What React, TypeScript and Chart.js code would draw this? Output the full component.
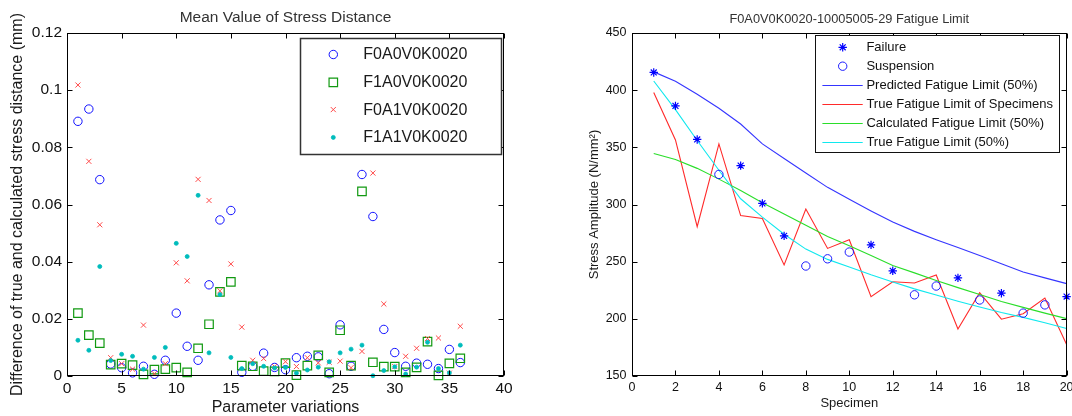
import React, { useEffect, useRef } from 'react';
import { Chart, registerables } from 'chart.js';

Chart.register(...registerables);

const FONT = '"Liberation Sans", Arial, Helvetica, sans-serif';
Chart.defaults.font.family = FONT;

// ---------------- Left chart data ----------------
const leftTitle = 'Mean Value of Stress Distance';
const leftXTitle = 'Parameter variations';
const leftYTitle = 'Difference of true and calculated stress distance (mm)';
const variations = [1, 2, 3, 4, 5, 6, 7, 8, 9, 10, 11, 12, 13, 14, 15, 16, 17, 18, 19, 20, 21, 22, 23, 24, 25, 26, 27, 28, 29, 30, 31, 32, 33, 34, 35, 36];
const seriesF0A0V0 = [0.0891, 0.0934, 0.0687, 0.0042, 0.0029, 0.0011, 0.0034, 0.0006, 0.0055, 0.022, 0.0104, 0.0055, 0.0319, 0.0546, 0.0579, 0.0013, 0.0034, 0.008, 0.003, 0.0022, 0.0064, 0.0069, 0.0067, 0.0008, 0.0179, 0.0034, 0.0705, 0.0558, 0.0163, 0.0082, 0.0034, 0.0045, 0.0041, 0.0026, 0.0093, 0.0047];
const seriesF1A0V0 = [0.022, 0.0143, 0.0115, 0.004, 0.0043, 0.0038, 0.0006, 0.0022, 0.0024, 0.0029, 0.0013, 0.0097, 0.0181, 0.0294, 0.0329, 0.0036, 0.0034, 0.0017, 0.0016, 0.0045, 0.0003, 0.0036, 0.0072, 0.0013, 0.016, 0.0036, 0.0646, 0.0048, 0.0033, 0.0033, 0.0013, 0.003, 0.012, 0.0002, 0.0044, 0.0062];
const seriesF0A1V0 = [0.1018, 0.0751, 0.0529, 0.0064, 0.0043, 0.0024, 0.0178, 0.0008, 0.0043, 0.0396, 0.0333, 0.0688, 0.0614, 0.0298, 0.0392, 0.0171, 0.0055, 0.0061, 0.0033, 0.005, 0.0033, 0.0064, 0.0046, 0.0048, 0.0052, 0.0029, 0.0086, 0.071, 0.0252, 0.0033, 0.0069, 0.0097, 0.0131, 0.0133, 0.001, 0.0174];
const seriesF1A1V0 = [0.0125, 0.009, 0.0383, 0.0054, 0.0076, 0.0069, 0.0024, 0.0065, 0.01, 0.0464, 0.0418, 0.0632, 0.0081, 0.0285, 0.0065, 0.0026, 0.0043, 0.0034, 0.0028, 0.003, 0.001, 0.0021, 0.0031, 0.005, 0.0081, 0.0094, 0.0108, 0.0001, 0.0019, 0.0032, 0.0007, 0.0031, 0.0118, 0.0026, 0.0011, 0.0108];
const leftLabels = ['F0A0V0K0020', 'F1A0V0K0020', 'F0A1V0K0020', 'F1A1V0K0020'];
const leftXTicks = [0, 5, 10, 15, 20, 25, 30, 35, 40];
const leftXTickLabels = ['0', '5', '10', '15', '20', '25', '30', '35', '40'];
const leftYTicks = [0, 0.02, 0.04, 0.06, 0.08, 0.1, 0.12];
const leftYTickLabels = ['0', '0.02', '0.04', '0.06', '0.08', '0.1', '0.12'];

// ---------------- Right chart data ----------------
const rightTitle = 'F0A0V0K0020-10005005-29 Fatigue Limit';
const rightXTitle = 'Specimen';
const rightYTitle = 'Stress Amplitude (N/mm\u00B2)';
const specimens = [1, 2, 3, 4, 5, 6, 7, 8, 9, 10, 11, 12, 13, 14, 15, 16, 17, 18, 19, 20];
const failureX = [1, 2, 3, 5, 6, 7, 11, 12, 15, 17, 20];
const failureY = [415.5, 386.3, 356.9, 334, 301, 272.6, 264.7, 242, 235.8, 222.4, 219.5];
const suspensionX = [4, 8, 9, 10, 13, 14, 16, 18, 19];
const suspensionY = [326.3, 246.2, 252.5, 258.4, 221, 228.7, 216.5, 205, 212.2];
const predictedLimit = [416, 407.8, 396.5, 384.2, 370.4, 353, 340.2, 327.6, 315, 304.5, 294.3, 284.6, 276.5, 269.2, 262.3, 255.3, 248.2, 241, 235.8, 230.8];
const trueSpecimenLimit = [398, 356.5, 280.6, 353, 290.3, 287.8, 247.2, 296, 261.6, 269.2, 219.4, 232.4, 231.4, 238.3, 191.1, 222.9, 199.7, 204.5, 218.2, 177.6];
const calculatedLimit = [344.6, 339.4, 331.6, 322.2, 312.3, 301.5, 291.6, 281.8, 272, 264, 255.5, 246.7, 240.2, 233.6, 227.3, 221.2, 215.2, 210, 205, 200.2];
const trueLimit50 = [408, 383, 356, 330, 305, 289, 274, 261, 252, 245.3, 238.5, 232.3, 226.2, 220.8, 215.4, 210.4, 205.6, 201.3, 196.6, 191.6];
const rightLabels = ['Failure', 'Suspension', 'Predicted Fatigue Limit (50%)', 'True Fatigue Limit of Specimens', 'Calculated Fatigue Limit (50%)', 'True Fatigue Limit (50%)'];
const rightXTicks = [0, 2, 4, 6, 8, 10, 12, 14, 16, 18, 20];
const rightXTickLabels = ['0', '2', '4', '6', '8', '10', '12', '14', '16', '18', '20'];
const rightYTicks = [150, 200, 250, 300, 350, 400, 450];
const rightYTickLabels = ['150', '200', '250', '300', '350', '400', '450'];

// ---------------- Styles ----------------
type Marker = { style: string; r: number; stroke: string; fill: string | null; lw: number };

const leftMarkers: Marker[] = [
  { style: 'circle', r: 4.2, stroke: '#1010ff', fill: null, lw: 1 },
  { style: 'rect', r: 6, stroke: '#119911', fill: null, lw: 1.2 },
  { style: 'crossRot', r: 3.6, stroke: '#ff4a4a', fill: null, lw: 1 },
  { style: 'circle', r: 2, stroke: '#00bcbc', fill: '#00bcbc', lw: 0.8 },
];
const failureMarker: Marker = { style: 'star', r: 4.2, stroke: '#0000ff', fill: null, lw: 1.2 };
const suspensionMarker: Marker = { style: 'circle', r: 4.2, stroke: '#1a1aff', fill: null, lw: 1 };
const lineColors = ['#3535ff', '#ff2a2a', '#2ade2a', '#10e8ee'];

function drawMarker(ctx: CanvasRenderingContext2D, m: Marker, x: number, y: number) {
  ctx.save();
  ctx.strokeStyle = m.stroke;
  ctx.lineWidth = m.lw;
  ctx.beginPath();
  const r = m.r;
  const o = r * Math.SQRT1_2;
  if (m.style === 'circle') {
    ctx.arc(x, y, r, 0, Math.PI * 2);
  } else if (m.style === 'rect') {
    ctx.rect(x - o, y - o, 2 * o, 2 * o);
  } else if (m.style === 'crossRot') {
    ctx.moveTo(x - o, y - o); ctx.lineTo(x + o, y + o);
    ctx.moveTo(x + o, y - o); ctx.lineTo(x - o, y + o);
  } else if (m.style === 'star') {
    ctx.moveTo(x - r, y); ctx.lineTo(x + r, y);
    ctx.moveTo(x, y - r); ctx.lineTo(x, y + r);
    ctx.moveTo(x - o, y - o); ctx.lineTo(x + o, y + o);
    ctx.moveTo(x + o, y - o); ctx.lineTo(x - o, y + o);
  }
  if (m.fill) { ctx.fillStyle = m.fill; ctx.fill(); }
  ctx.stroke();
  ctx.restore();
}

function drawFrame(chart: any, tickLen: number) {
  const { ctx, chartArea: a, scales } = chart;
  const L = Math.round(a.left) + 0.5;
  const R = Math.round(a.right) - 0.5;
  const T = Math.round(a.top) + 0.5;
  const B = Math.round(a.bottom) - 0.5;
  ctx.save();
  ctx.strokeStyle = '#000';
  ctx.lineWidth = 1;
  ctx.beginPath();
  scales.x.ticks.forEach((t: any) => {
    const px = Math.round(scales.x.getPixelForValue(t.value)) + 0.5;
    ctx.moveTo(px, B); ctx.lineTo(px, B - tickLen);
    ctx.moveTo(px, T); ctx.lineTo(px, T + tickLen);
  });
  scales.y.ticks.forEach((t: any) => {
    const py = Math.round(scales.y.getPixelForValue(t.value)) + 0.5;
    ctx.moveTo(L, py); ctx.lineTo(L + tickLen, py);
    ctx.moveTo(R, py); ctx.lineTo(R - tickLen, py);
  });
  ctx.stroke();
  ctx.strokeRect(L, T, R - L, B - T);
  ctx.restore();
}

function pts(xs: number[], ys: number[]) {
  return xs.map((x, i) => ({ x, y: ys[i] }));
}

function scatterDataset(label: string, data: any[], m: Marker, order: number) {
  return {
    label,
    data,
    showLine: false,
    pointStyle: m.style,
    pointRadius: m.r,
    pointHoverRadius: m.r,
    pointBorderColor: m.stroke,
    pointBackgroundColor: m.fill ?? 'rgba(0,0,0,0)',
    pointBorderWidth: m.lw,
    borderColor: m.stroke,
    backgroundColor: m.fill ?? 'rgba(0,0,0,0)',
    clip: false,
    order,
  };
}

function lineDataset(label: string, data: any[], color: string, order: number) {
  return {
    label,
    data,
    showLine: true,
    borderColor: color,
    backgroundColor: color,
    borderWidth: 1.1,
    pointRadius: 0,
    pointHoverRadius: 0,
    tension: 0,
    fill: false,
    clip: false,
    order,
  };
}

function axis(opts: {
  min: number; max: number; ticks: number[]; labels: string[]; size: number; fontSize: number;
  horizontal: boolean; pad: number; title: string; titleSize: number; titlePad: any;
}) {
  return {
    type: 'linear',
    min: opts.min,
    max: opts.max,
    afterBuildTicks: (s: any) => { s.ticks = opts.ticks.map((v) => ({ value: v })); },
    afterFit: (s: any) => {
      if (opts.horizontal) s.height = opts.size; else s.width = opts.size;
      s.paddingLeft = 0; s.paddingRight = 0; s.paddingTop = 0; s.paddingBottom = 0;
    },
    grid: { display: false, drawTicks: false },
    border: { display: false },
    ticks: {
      autoSkip: false,
      maxRotation: 0,
      minRotation: 0,
      padding: opts.pad,
      color: '#111',
      font: { size: opts.fontSize, family: FONT },
      callback: (_v: any, i: number) => opts.labels[i],
    },
    title: {
      display: true,
      text: opts.title,
      color: '#1a1a1a',
      font: { size: opts.titleSize, family: FONT, lineHeight: 1 },
      padding: opts.titlePad,
    },
  };
}

const leftPlugin = {
  id: 'leftDecor',
  afterDraw(chart: any) {
    const { ctx, chartArea: a } = chart;
    drawFrame(chart, 5);
    ctx.save();
    ctx.fillStyle = '#333';
    ctx.font = `15.5px ${FONT}`;
    ctx.textAlign = 'center';
    ctx.textBaseline = 'alphabetic';
    ctx.fillText(leftTitle, (a.left + a.right) / 2, 22);
    // legend
    const bx = 300.5, by = 38.5, bw = 201, bh = 116;
    ctx.fillStyle = '#fff';
    ctx.fillRect(bx, by, bw, bh);
    ctx.strokeStyle = '#333';
    ctx.lineWidth = 1.5;
    ctx.strokeRect(bx, by, bw, bh);
    const rows = [54.5, 82.3, 109.6, 137.4];
    ctx.font = `16px ${FONT}`;
    ctx.textAlign = 'left';
    ctx.textBaseline = 'middle';
    rows.forEach((ry, i) => {
      drawMarker(ctx, leftMarkers[i], 333.3, ry);
      ctx.fillStyle = '#1a1a1a';
      ctx.fillText(leftLabels[i], 363.3, ry + 0.5);
    });
    ctx.restore();
  },
};

const rightPlugin = {
  id: 'rightDecor',
  afterDraw(chart: any) {
    const { ctx, chartArea: a } = chart;
    drawFrame(chart, 5);
    ctx.save();
    ctx.fillStyle = '#333';
    ctx.font = `12.8px ${FONT}`;
    ctx.textAlign = 'center';
    ctx.textBaseline = 'alphabetic';
    ctx.fillText(rightTitle, (a.left + a.right) / 2, 22.5);
    // legend
    const bx = 275.5, by = 35.5, bw = 244, bh = 117;
    ctx.fillStyle = '#fff';
    ctx.fillRect(bx, by, bw, bh);
    ctx.strokeStyle = '#111';
    ctx.lineWidth = 1;
    ctx.strokeRect(bx, by, bw, bh);
    const rows = [47.3, 66.2, 85.1, 104, 122.9, 141.8];
    ctx.font = `13px ${FONT}`;
    ctx.textAlign = 'left';
    ctx.textBaseline = 'middle';
    rows.forEach((ry, i) => {
      if (i === 0) drawMarker(ctx, failureMarker, 302.7, ry);
      else if (i === 1) drawMarker(ctx, suspensionMarker, 302.7, ry);
      else {
        ctx.strokeStyle = lineColors[i - 2];
        ctx.lineWidth = 1.1;
        ctx.beginPath();
        ctx.moveTo(282.4, Math.round(ry) + 0.5);
        ctx.lineTo(322.7, Math.round(ry) + 0.5);
        ctx.stroke();
      }
      ctx.fillStyle = '#111';
      ctx.fillText(rightLabels[i], 326.4, ry + 0.5);
    });
    ctx.restore();
  },
};

function leftConfig(): any {
  const series = [seriesF0A0V0, seriesF1A0V0, seriesF0A1V0, seriesF1A1V0];
  return {
    type: 'scatter',
    data: {
      datasets: series.map((s, i) => scatterDataset(leftLabels[i], pts(variations, s), leftMarkers[i], 3 - i)),
    },
    options: {
      responsive: false,
      animation: false,
      devicePixelRatio: 1,
      events: [],
      layout: { padding: { left: 0, right: 36, top: 33, bottom: 0 } },
      plugins: { legend: { display: false }, title: { display: false }, tooltip: { enabled: false } },
      scales: {
        x: axis({ min: 0, max: 40, ticks: leftXTicks, labels: leftXTickLabels, size: 40, fontSize: 15.5, horizontal: true, pad: 3.6, title: leftXTitle, titleSize: 16, titlePad: { top: 0, bottom: 0.6 } }),
        y: axis({ min: 0, max: 0.12, ticks: leftYTicks, labels: leftYTickLabels, size: 67, fontSize: 15.5, horizontal: false, pad: 5, title: leftYTitle, titleSize: 16, titlePad: { top: 10, bottom: 0 } }),
      },
    },
    plugins: [leftPlugin],
  };
}

function rightConfig(): any {
  return {
    type: 'scatter',
    data: {
      datasets: [
        scatterDataset(rightLabels[0], pts(failureX, failureY), failureMarker, 0),
        scatterDataset(rightLabels[1], pts(suspensionX, suspensionY), suspensionMarker, 1),
        lineDataset(rightLabels[2], pts(specimens, predictedLimit), lineColors[0], 5),
        lineDataset(rightLabels[3], pts(specimens, trueSpecimenLimit), lineColors[1], 4),
        lineDataset(rightLabels[4], pts(specimens, calculatedLimit), lineColors[2], 3),
        lineDataset(rightLabels[5], pts(specimens, trueLimit50), lineColors[3], 2),
      ],
    },
    options: {
      responsive: false,
      animation: false,
      devicePixelRatio: 1,
      events: [],
      layout: { padding: { left: 0, right: 5, top: 33, bottom: 0 } },
      plugins: { legend: { display: false }, title: { display: false }, tooltip: { enabled: false } },
      scales: {
        x: axis({ min: 0, max: 20, ticks: rightXTicks, labels: rightXTickLabels, size: 40, fontSize: 12.5, horizontal: true, pad: 4, title: rightXTitle, titleSize: 13, titlePad: { top: 0, bottom: 6.5 } }),
        y: axis({ min: 150, max: 450, ticks: rightYTicks, labels: rightYTickLabels, size: 92, fontSize: 12.5, horizontal: false, pad: 5.5, title: rightYTitle, titleSize: 13, titlePad: { top: 48, bottom: 0 } }),
      },
    },
    plugins: [rightPlugin],
  };
}

export default function App() {
  const leftRef = useRef<HTMLCanvasElement>(null);
  const rightRef = useRef<HTMLCanvasElement>(null);
  useEffect(() => {
    const c1 = new Chart(leftRef.current as HTMLCanvasElement, leftConfig());
    const c2 = new Chart(rightRef.current as HTMLCanvasElement, rightConfig());
    return () => { c1.destroy(); c2.destroy(); };
  }, []);
  return (
    <div style={{ position: 'absolute', left: 0, top: 0, width: 1072, height: 416, overflow: 'hidden', background: '#fff' }}>
      <canvas ref={leftRef} width={540} height={416} style={{ position: 'absolute', left: 0, top: 0, width: 540, height: 416 }} />
      <canvas ref={rightRef} width={532} height={416} style={{ position: 'absolute', left: 540, top: 0, width: 532, height: 416 }} />
    </div>
  );
}
